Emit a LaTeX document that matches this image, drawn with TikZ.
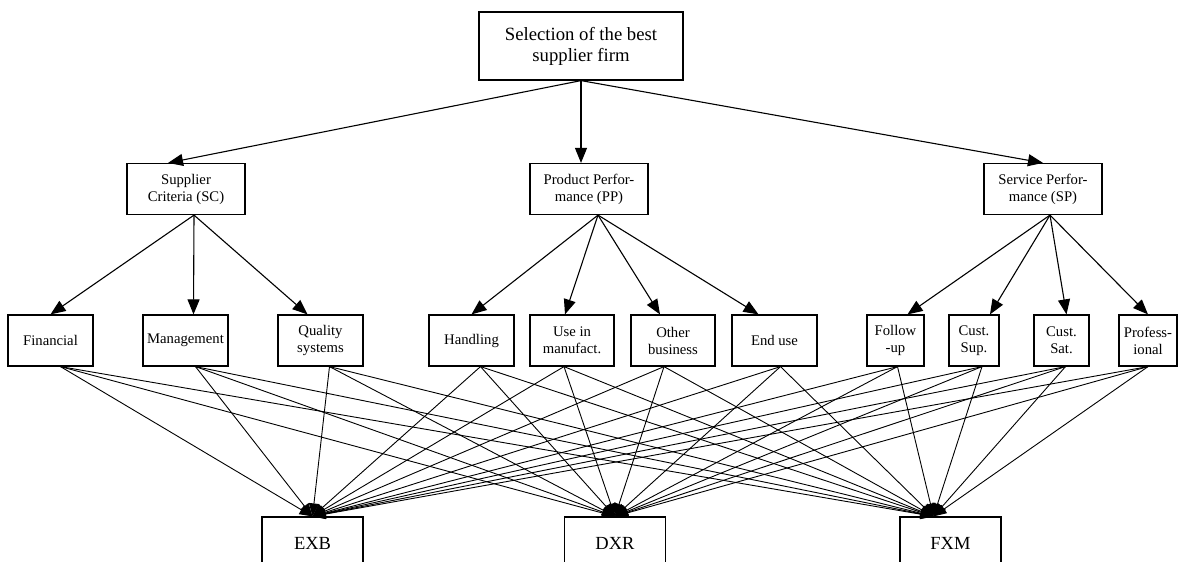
\documentclass[tikz,border=0pt]{standalone}
\usepackage{fontspec}
\setmainfont{Liberation Serif}
\usetikzlibrary{arrows.meta}

\begin{document}
\begin{tikzpicture}[x=1pt,y=-1pt]
\tikzset{goalbox/.style={rectangle,draw,line width=1.2pt,minimum width=204pt,minimum height=68pt,inner sep=0pt,align=center,font=\fontsize{18.7}{21}\selectfont},
critbox/.style={rectangle,draw,line width=1.2pt,minimum height=51pt,inner sep=0pt,align=center,font=\fontsize{14.7}{17}\selectfont},
altbox/.style={rectangle,draw,line width=1.2pt,minimum width=101pt,minimum height=52pt,inner sep=0pt,font=\fontsize{18.5}{21}\selectfont},
tree/.style={line width=1.1pt,-{Triangle[length=15pt,width=12pt]}},
link/.style={line width=0.9pt,-{Triangle[length=13pt,width=10pt]}}}
\useasboundingbox (0,0) rectangle (1179,562);
\node[goalbox](goal) at (581,46){Selection of the best\\supplier firm};
\node[critbox,minimum width=118pt](sc) at (186,189){Supplier\\Criteria (SC)};
\node[critbox,minimum width=118pt](pp) at (589,189){Product Perfor-\\mance (PP)};
\node[critbox,minimum width=118pt](sp) at (1043,189){Service Perfor-\\mance (SP)};
\draw[tree](goal.south) -- ([xshift=-18pt]sc.north);
\draw[tree](goal.south) -- (goal.south |- pp.north);
\draw[tree](goal.south) -- (sp.north);
\node[critbox,minimum width=85pt](fin) at (50.5,340.5){Financial};
\node[critbox,minimum width=85pt](mgmt) at (185.5,340.5){Management};
\node[critbox,minimum width=85pt](qual) at (320.5,340.5){Quality\\systems};
\node[critbox,minimum width=85pt](hand) at (471.5,340.5){Handling};
\node[critbox,minimum width=84pt](manu) at (572,340.5){Use in\\manufact.};
\node[critbox,minimum width=84pt](other) at (673,340.5){Other\\business};
\node[critbox,minimum width=85pt](enduse) at (774.5,340.5){End use};
\node[critbox,minimum width=57pt](follow) at (895.5,340.5){Follow\\-up};
\node[critbox,minimum width=50pt](csup) at (974,340.5){Cust.\\Sup.};
\node[critbox,minimum width=55pt](csat) at (1061.5,340.5){Cust.\\Sat.};
\node[critbox,minimum width=58pt](prof) at (1148,340.5){Profess-\\ional};
\draw[tree]([xshift=8pt]sc.south) -- (fin.north);
\draw[tree]([xshift=8pt]sc.south) -- ([xshift=8pt]mgmt.north);
\draw[tree]([xshift=8pt]sc.south) -- ([xshift=-13pt]qual.north);
\draw[tree]([xshift=9pt]pp.south) -- (hand.north);
\draw[tree]([xshift=9pt]pp.south) -- ([xshift=-7pt]manu.north);
\draw[tree]([xshift=9pt]pp.south) -- ([xshift=-13pt]other.north);
\draw[tree]([xshift=9pt]pp.south) -- ([xshift=-16pt]enduse.north);
\draw[tree]([xshift=7pt]sp.south) -- ([xshift=12pt]follow.north);
\draw[tree]([xshift=7pt]sp.south) -- ([xshift=16pt]csup.north);
\draw[tree]([xshift=7pt]sp.south) -- ([xshift=5pt]csat.north);
\draw[tree]([xshift=7pt]sp.south) -- (prof.north);
\node[altbox](exb) at (312.5,543){EXB};
\node[altbox](dxr) at (615,543){DXR};
\node[altbox](fxm) at (950.5,543){FXM};
\coordinate (fxmtop) at ([xshift=-17pt]fxm.north);
\draw([xshift=10pt]fin.south) edge[link] (exb.north) edge[link] (dxr.north) edge[link] (fxmtop);
\draw([xshift=10pt]mgmt.south) edge[link] (exb.north) edge[link] (dxr.north) edge[link] (fxmtop);
\draw([xshift=9pt]qual.south) edge[link] (exb.north) edge[link] (dxr.north) edge[link] (fxmtop);
\draw([xshift=9pt]hand.south) edge[link] (exb.north) edge[link] (dxr.north) edge[link] (fxmtop);
\draw([xshift=-8pt]manu.south) edge[link] (exb.north) edge[link] (dxr.north) edge[link] (fxmtop);
\draw([xshift=-9pt]other.south) edge[link] (exb.north) edge[link] (dxr.north) edge[link] (fxmtop);
\draw([xshift=6pt]enduse.south) edge[link] (exb.north) edge[link] (dxr.north) edge[link] (fxmtop);
\draw([xshift=2pt]follow.south) edge[link] (exb.north) edge[link] (dxr.north) edge[link] (fxmtop);
\draw([xshift=8pt]csup.south) edge[link] (exb.north) edge[link] (dxr.north) edge[link] (fxmtop);
\draw([xshift=4pt]csat.south) edge[link] (exb.north) edge[link] (dxr.north) edge[link] (fxmtop);
\draw(prof.south) edge[link] (exb.north) edge[link] (dxr.north) edge[link] (fxmtop);
\end{tikzpicture}
\end{document}
